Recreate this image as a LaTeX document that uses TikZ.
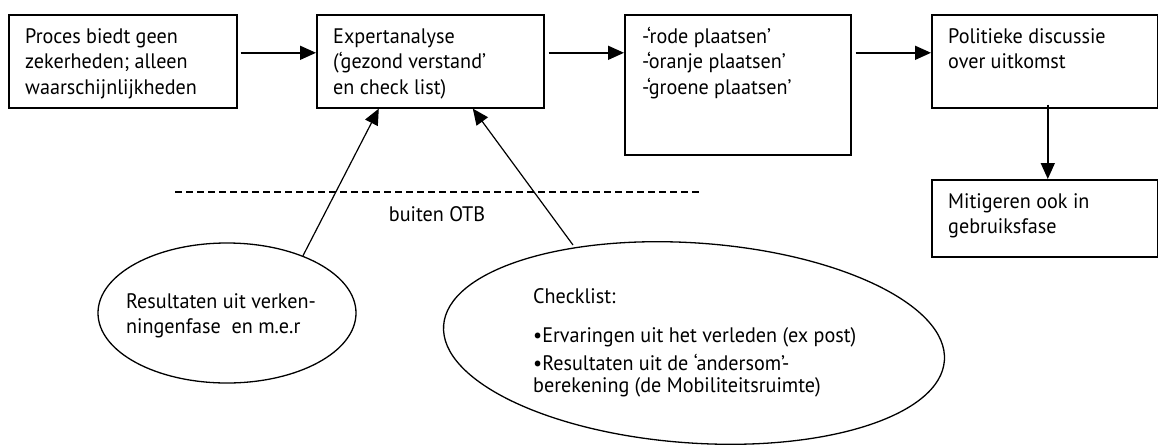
\documentclass[tikz,border=0pt]{standalone}
\usepackage{fontspec}
\setmainfont[FakeStretch=0.96]{PT Sans}
\usetikzlibrary{arrows.meta,shapes.geometric}
\begin{document}
\begin{tikzpicture}[x=1pt,y=-1pt,
  box/.style={draw,line width=1.6pt,rectangle,anchor=north west,inner sep=0pt},
  txt/.style={anchor=base west,align=left,inner sep=0pt,font=\fontsize{21}{25.7}\selectfont},
  arr/.style={line width=1.6pt,-{Triangle[length=16pt,width=14pt]}},
  arrd/.style={line width=1.2pt,-{Triangle[length=16pt,width=14pt]}},
  ell/.style={draw,ellipse,line width=1.3pt,inner sep=0pt}]
\useasboundingbox[fill=white] (0,0) rectangle (1158,445);
% boxes
\node[box,minimum width=228pt,minimum height=93pt] (b1) at (8,14) {};
\node[box,minimum width=227pt,minimum height=93pt] (b2) at (316,14) {};
\node[box,minimum width=226pt,minimum height=140pt] (b3) at (624,14) {};
\node[box,minimum width=226pt,minimum height=93pt] (b4) at (931,14) {};
\node[box,minimum width=226pt,minimum height=77pt] (b5) at (931,179) {};
% ellipses
\node[ell,minimum width=258pt,minimum height=140pt] (le) at (227,313) {};
\node[ell,minimum width=502pt,minimum height=200pt,rotate=-4] (re) at (694,343) {};
% texts (anchor = baseline of the last line)
\node[txt] (t1) at (25,94.4) {Proces biedt geen\\zekerheden; alleen\\waarschijnlijkheden};
\node[txt] (t2) at (333,94.4) {Expertanalyse\\(‘gezond verstand’\\en check list)};
\node[txt] (t3) at (642,94.4) {-‘rode plaatsen’\\-‘oranje plaatsen’\\-‘groene plaatsen’};
\node[txt] (t4) at (948,68.7) {Politieke discussie\\over uitkomst};
\node[txt] (t5) at (948,233.7) {Mitigeren ook in\\gebruiksfase};
\node[txt,font=\fontsize{21}{25}\selectfont] (t6) at (126,333) {Resultaten uit verken-\\ningenfase\ \ en m.e.r};
\node[txt,font=\fontsize{21}{22}\selectfont] (t7) at (533,392) {Checklist:\\[17pt]•Ervaringen uit het verleden (ex post)\\[6pt]•Resultaten uit de ‘andersom’-\\berekening (de Mobiliteitsruimte)};
\node[anchor=base,inner sep=0pt,font=\fontsize{21}{25.7}\selectfont] (otb) at (437,221) {buiten OTB};
% dashed line
\draw[line width=1.5pt,dash pattern=on 7pt off 4pt] (175,192) -- (699,192);
% connectors
\draw[arr,shorten <=3pt] ([yshift=8.5pt]b1.east) -- ([yshift=8.5pt]b2.west);
\draw[arr,shorten <=4pt] ([yshift=8.5pt]b2.east) -- ([yshift=32pt]b3.west);
\draw[arr,shorten <=4pt] ([yshift=32pt]b3.east) -- ([yshift=8.5pt]b4.west);
\draw[arr,shorten <=-4pt] ([xshift=3pt]b4.south) -- ([xshift=3pt]b5.north);
\coordinate (rs) at (573,245);
\draw[arrd] (le.37) -- ([xshift=-51.5pt]b2.south);
\draw[arrd] (rs) -- ([xshift=42.5pt]b2.south);
\end{tikzpicture}
\end{document}
